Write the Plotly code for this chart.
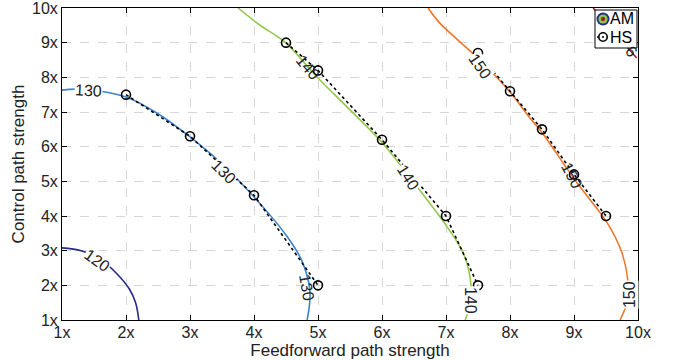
import plotly.graph_objects as go

# Contour levels and their line colours
levels = [120, 130, 140, 150, 160]
level_colors = ["#262a84", "#3e83cf", "#93c84f", "#f2762a", "#a42226"]

# Iso-lines traced through the (feedforward, control) plane
c120_x = [1.0, 1.3, 1.6, 1.85, 2.05, 2.15, 2.2]
c120_y = [3.08, 3.0, 2.75, 2.35, 1.9, 1.5, 1.0]

c130_x = [1.0, 1.2, 1.6, 2.0, 2.5, 3.0, 3.5, 4.0, 4.5, 4.75, 4.87, 4.87, 4.83]
c130_y = [7.63, 7.66, 7.6, 7.43, 6.95, 6.28, 5.5, 4.55, 3.45, 2.7, 1.9, 1.5, 1.0]

c140_x = [3.75, 4.09, 4.48, 5.0, 5.5, 6.0, 6.55, 7.02, 7.27, 7.375, 7.39, 7.3]
c140_y = [10.0, 9.51, 9.02, 7.98, 7.06, 6.12, 4.84, 3.68, 2.93, 2.24, 1.58, 1.0]

c150_x = [6.72, 6.9, 7.5, 8.0, 8.31, 8.47, 9.05, 9.52, 9.75, 9.84, 9.84, 9.72]
c150_y = [10.0, 9.57, 8.55, 7.58, 6.83, 6.48, 4.95, 3.8, 2.93, 2.15, 1.58, 1.0]

c160_x = [9.3, 9.6, 9.98]
c160_y = [10.0, 9.35, 8.56]

contours_x = [c120_x, c130_x, c140_x, c150_x, c160_x]
contours_y = [c120_y, c130_y, c140_y, c150_y, c160_y]

# Inline contour labels: (level index, x, y, angle, opaque background)
label_level = [0, 1, 1, 1, 2, 2, 2, 3, 3, 3]
label_x = [1.55, 1.41, 3.52, 4.83, 4.84, 6.41, 7.375, 7.53, 8.97, 9.86]
label_y = [2.73, 7.61, 5.27, 1.95, 8.27, 5.12, 1.58, 8.30, 5.18, 1.72]
label_angle = [35, 3, 45, 80, 50, 58, 90, 55, 62, -90]
label_bg = [True, True, True, False, False, True, True, True, False, True]

# HS optimum points, one group per contour
hs_x = [[2, 3, 4, 5], [4.5, 5, 6, 7, 7.5], [7.5, 8, 8.5, 9, 9.5]]
hs_y = [[7.5, 6.3, 4.6, 2.0], [9.0, 8.2, 6.2, 4.0, 2.0], [8.7, 7.6, 6.5, 5.2, 4.0]]

tick_vals = list(range(1, 11))
tick_text = [f"{v}x" for v in tick_vals]

FONT = "Liberation Sans, Arial, Helvetica, sans-serif"
TEXT = "#222222"

fig = go.Figure()

for xs, ys, col in zip(contours_x, contours_y, level_colors):
    fig.add_trace(go.Scatter(
        x=xs, y=ys, mode="lines",
        line=dict(color=col, width=1.6, shape="spline", smoothing=1.0),
        showlegend=False, hoverinfo="skip",
    ))

for xs, ys in zip(hs_x, hs_y):
    fig.add_trace(go.Scatter(
        x=xs, y=ys, mode="lines+markers",
        line=dict(color="black", width=1.6, dash="dot"),
        marker=dict(symbol="circle-open", size=9, color="black",
                    line=dict(width=1.6, color="black")),
        showlegend=False, hoverinfo="skip",
    ))

annotations = []
for li, lx, ly, ang, bg in zip(label_level, label_x, label_y, label_angle, label_bg):
    annotations.append(dict(
        x=lx, y=ly, xref="x", yref="y", text=str(levels[li]),
        showarrow=False, textangle=ang,
        font=dict(family=FONT, size=16, color=TEXT),
        bgcolor="white" if bg else "rgba(0,0,0,0)", borderpad=0,
    ))

# fragment of the 160 label, mostly hidden under the legend box
annotations.append(dict(
    x=9.9, y=8.75, xref="x", yref="y", text=str(levels[4])[1],
    showarrow=False, textangle=50,
    font=dict(family=FONT, size=16, color=TEXT),
))

# Hand-built legend box in paper coordinates
def px_x(p):
    return (p - 62) / 576.0

def px_y(p):
    return (320 - p) / 312.0

shapes = [
    dict(type="rect", xref="paper", yref="paper",
         x0=px_x(595), x1=px_x(637), y0=px_y(48), y1=px_y(10),
         fillcolor="white", line=dict(color="black", width=1), layer="above"),
]
am_cx, am_cy = px_x(603), px_y(19)
for r, col in [(6.5, level_colors[0]), (4.6, level_colors[2]), (2.2, level_colors[4])]:
    shapes.append(dict(
        type="circle", xref="paper", yref="paper",
        xsizemode="pixel", ysizemode="pixel",
        xanchor=am_cx, yanchor=am_cy, x0=-r, x1=r, y0=-r, y1=r,
        fillcolor=col, line=dict(width=0), layer="above",
    ))
hs_cx, hs_cy = px_x(603), px_y(37)
shapes.append(dict(
    type="line", xref="paper", yref="paper",
    x0=px_x(597), x1=px_x(599), y0=hs_cy, y1=hs_cy,
    line=dict(color="black", width=1.6), layer="above",
))
shapes.append(dict(
    type="circle", xref="paper", yref="paper",
    xsizemode="pixel", ysizemode="pixel",
    xanchor=hs_cx, yanchor=hs_cy, x0=-4.2, x1=4.2, y0=-4.2, y1=4.2,
    fillcolor="white", line=dict(color="black", width=1.6), layer="above",
))
shapes.append(dict(
    type="circle", xref="paper", yref="paper",
    xsizemode="pixel", ysizemode="pixel",
    xanchor=hs_cx, yanchor=hs_cy, x0=-1, x1=1, y0=-1, y1=1,
    fillcolor="black", line=dict(width=0), layer="above",
))

for name, cy in [("AM", am_cy), ("HS", hs_cy)]:
    annotations.append(dict(
        x=px_x(608), y=cy, xref="paper", yref="paper", text=name,
        xanchor="left", yanchor="middle", showarrow=False,
        font=dict(family=FONT, size=16, color="black"),
    ))

axis_common = dict(
    range=[1, 10], tickvals=tick_vals, ticktext=tick_text,
    ticks="inside", ticklen=5, tickwidth=1, tickcolor="black",
    showline=True, linecolor="black", linewidth=1, mirror="ticks",
    showgrid=True, gridcolor="#d6d6d6", griddash="dash", gridwidth=1,
    zeroline=False, tickfont=dict(family=FONT, size=16, color=TEXT),
    ticklabeloverflow="allow",
    fixedrange=True, automargin=False,
)

fig.update_layout(
    width=677, height=360,
    margin=dict(l=62, r=39, t=8, b=40),
    paper_bgcolor="white", plot_bgcolor="white",
    xaxis=dict(**axis_common, ticklabelstandoff=-2,
               title=dict(text="Feedforward path strength", standoff=3,
                          font=dict(family=FONT, size=17, color=TEXT))),
    yaxis=dict(**axis_common,
               title=dict(text="Control path strength", standoff=3,
                          font=dict(family=FONT, size=17, color=TEXT))),
    annotations=annotations,
    shapes=shapes,
    showlegend=False,
)

fig.write_html("out.html")
